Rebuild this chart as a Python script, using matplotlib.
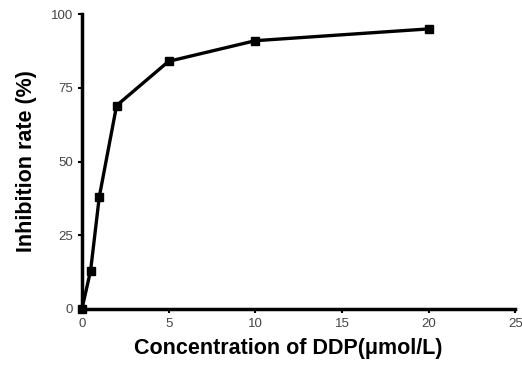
import matplotlib
matplotlib.use('Agg')
import matplotlib.pyplot as plt

# concentration of DDP (umol/L) and inhibition rate (%)
conc = [0, 0.5, 1, 2, 5, 10, 20]
inhibition = [0, 13, 38, 69, 84, 91, 95]

xticks = [0, 5, 10, 15, 20, 25]
yticks = [0, 25, 50, 75, 100]

plt.rcParams['font.family'] = ['Liberation Sans', 'DejaVu Sans']

fig = plt.figure(figsize=(5.22, 3.73), dpi=100)
ax = fig.add_axes([0.157, 0.172, 0.83, 0.79])

ax.plot(conc, inhibition, color='black', lw=2.4, marker='s', ms=5.5, clip_on=False, zorder=5)

ax.set_xlim(0, 25)
ax.set_ylim(0, 100)
ax.set_xticks(xticks)
ax.set_yticks(yticks)
ax.tick_params(direction='out', length=3, width=1.5, labelsize=9.5, labelcolor='#444444')

for s in ['top', 'right']:
    ax.spines[s].set_visible(False)
for s in ['left', 'bottom']:
    ax.spines[s].set_linewidth(2.5)

ax.set_xlabel('Concentration of DDP(\u03bcmol/L)', fontsize=15.5, fontweight='bold', labelpad=9)
ax.xaxis.set_label_coords(0.475, -0.1, transform=ax.transAxes)
ax.xaxis.label.set_va('top')
ax.set_ylabel('Inhibition rate (%)', fontsize=15.5, fontweight='bold', labelpad=10)

fig.savefig('out.png', dpi=100)
